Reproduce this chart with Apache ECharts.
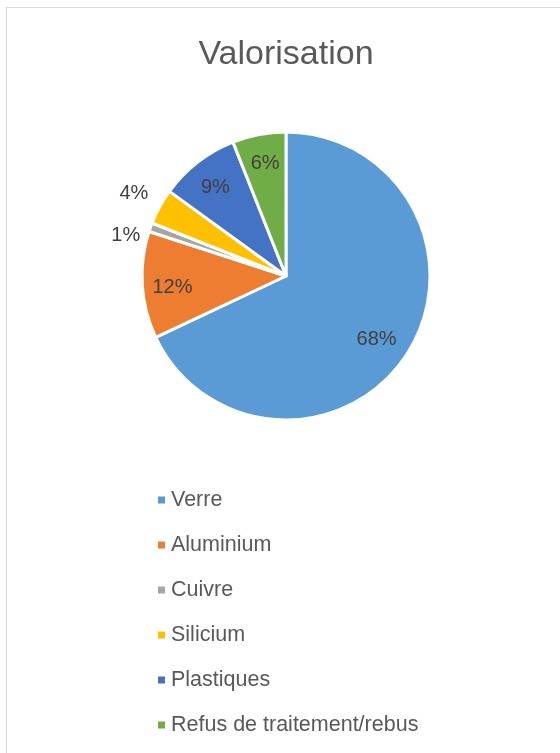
<!DOCTYPE html>
<html>
<head>
<meta charset="utf-8">
<script src="https://cdn.jsdelivr.net/npm/echarts@6/dist/echarts.min.js"></script>
<style>
html,body{margin:0;padding:0;background:#fff;}
#frame{position:absolute;left:6px;top:7px;width:700px;height:900px;border:1.5px solid #d9d9d9;box-sizing:border-box;}
#chart{position:absolute;left:0;top:0;width:560px;height:753px;}
</style>
</head>
<body>
<div id="frame"></div>
<div id="chart"></div>
<script>
const titleText = 'Valorisation';
const categories = ['Verre', 'Aluminium', 'Cuivre', 'Silicium', 'Plastiques', 'Refus de traitement/rebus'];
const values = [68, 12, 1, 4, 9, 6];
const colors = ['#5B9BD5', '#ED7D31', '#A5A5A5', '#FFC000', '#4472C4', '#70AD47'];
const insideLabel = [true, true, false, false, true, true];

const chart = echarts.init(document.getElementById('chart'), null, {renderer: 'canvas'});
const FONT = 'Liberation Sans';
const R = 144;
const outsideShift = {2: [2, 12], 3: [0, -7]};
const insideShift = {0: [-8, 1], 1: [3, 4], 4: [1, 4], 5: [1, 2]};

const mainData = categories.map((c, i) => ({
  name: c,
  value: values[i],
  itemStyle: {color: colors[i]},
  label: {show: !insideLabel[i]}
}));
const labelData = categories.map((c, i) => ({
  name: c,
  value: values[i],
  label: {show: insideLabel[i]}
}));

function shiftFn(map) {
  return function (p) {
    const s = map[p.dataIndex];
    return s ? {dx: s[0], dy: s[1]} : {};
  };
}

chart.setOption({
  animation: false,
  title: {
    text: titleText,
    left: 281,
    textAlign: 'center',
    top: 33,
    textStyle: {fontFamily: FONT, fontSize: 34, fontWeight: 'normal', color: '#595959'}
  },
  legend: {
    orient: 'vertical',
    left: 156,
    top: 489,
    padding: 0,
    itemGap: 23,
    itemWidth: 9,
    itemHeight: 9,
    icon: 'rect',
    data: categories,
    selectedMode: false,
    textStyle: {fontFamily: FONT, fontSize: 21.5, color: '#595959', lineHeight: 21}
  },
  series: [
    {
      type: 'pie',
      center: [286, 276],
      radius: [0, R],
      startAngle: 90,
      clockwise: true,
      avoidLabelOverlap: false,
      itemStyle: {borderColor: '#ffffff', borderWidth: 3},
      label: {
        position: 'outside',
        formatter: '{d}%',
        fontFamily: FONT,
        fontSize: 20,
        color: '#404040',
        distanceToLabelLine: 1
      },
      labelLine: {show: false, length: 12, length2: 0},
      labelLayout: shiftFn(outsideShift),
      emphasis: {disabled: true},
      data: mainData
    },
    {
      type: 'pie',
      center: [286, 276],
      radius: [0, R * 1.58],
      startAngle: 90,
      clockwise: true,
      silent: true,
      avoidLabelOverlap: false,
      itemStyle: {color: 'rgba(0,0,0,0)', borderWidth: 0},
      label: {
        position: 'inside',
        formatter: '{d}%',
        fontFamily: FONT,
        fontSize: 20,
        color: '#404040'
      },
      labelLine: {show: false},
      labelLayout: shiftFn(insideShift),
      emphasis: {disabled: true},
      data: labelData
    }
  ]
});
</script>
</body>
</html>
